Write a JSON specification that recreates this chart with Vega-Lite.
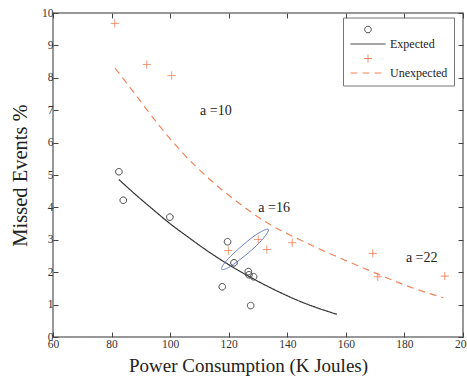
{
  "$schema": "https://vega.github.io/schema/vega-lite/v6.json",
  "width": 410,
  "height": 324,
  "autosize": {"type": "none"},
  "padding": {"left": 53, "top": 13, "right": 4, "bottom": 40},
  "config": {
    "font": "Liberation Serif",
    "view": {"stroke": "#777", "strokeWidth": 1.5},
    "axis": {
      "grid": false,
      "domain": false,
      "tickColor": "#444",
      "tickSize": -5,
      "tickWidth": 1,
      "labelOverlap": false,
      "labelBound": false,
      "labelFlush": false,
      "labelSeparation": 0,
      "labelFont": "Liberation Serif",
      "labelFontSize": 11.5,
      "labelColor": "#333",
      "titleFont": "Liberation Serif",
      "titleFontWeight": "normal",
      "titleColor": "#222"
    },
    "axisY": {"labelOverlap": false},
    "axisLeft": {"labelOverlap": false},
    "legend": {
      "title": null,
      "orient": "none",
      "legendX": 290,
      "legendY": 4.5,
      "symbolSize": 100,
      "symbolStrokeWidth": 1,
      "symbolOffset": 13,
      "strokeColor": "#777",
      "padding": 6,
      "labelFont": "Liberation Serif",
      "labelFontSize": 12,
      "labelColor": "#222",
      "labelOffset": 16,
      "rowPadding": 2.5
    }
  },
  "datasets": {
    "pts": [
      {"x": 82.5, "y": 5.10, "series": "Expected data"},
      {"x": 84.0, "y": 4.22, "series": "Expected data"},
      {"x": 99.9, "y": 3.70, "series": "Expected data"},
      {"x": 119.6, "y": 2.94, "series": "Expected data"},
      {"x": 121.8, "y": 2.29, "series": "Expected data"},
      {"x": 126.7, "y": 2.02, "series": "Expected data"},
      {"x": 126.9, "y": 1.92, "series": "Expected data"},
      {"x": 128.5, "y": 1.86, "series": "Expected data"},
      {"x": 117.8, "y": 1.55, "series": "Expected data"},
      {"x": 127.5, "y": 0.97, "series": "Expected data"},
      {"x": 81.1, "y": 9.68, "series": "Unexpected data"},
      {"x": 92.0, "y": 8.41, "series": "Unexpected data"},
      {"x": 100.5, "y": 8.07, "series": "Unexpected data"},
      {"x": 119.9, "y": 2.67, "series": "Unexpected data"},
      {"x": 130.1, "y": 3.01, "series": "Unexpected data"},
      {"x": 133.0, "y": 2.70, "series": "Unexpected data"},
      {"x": 141.7, "y": 2.91, "series": "Unexpected data"},
      {"x": 169.2, "y": 2.58, "series": "Unexpected data"},
      {"x": 170.9, "y": 1.86, "series": "Unexpected data"},
      {"x": 193.8, "y": 1.88, "series": "Unexpected data"}
    ],
    "curves": [
      {"x": 82.5, "y": 4.86, "series": "Expected"},
      {"x": 88.0, "y": 4.41, "series": "Expected"},
      {"x": 93.7, "y": 3.97, "series": "Expected"},
      {"x": 99.95, "y": 3.50, "series": "Expected"},
      {"x": 106.2, "y": 3.08, "series": "Expected"},
      {"x": 113.0, "y": 2.64, "series": "Expected"},
      {"x": 119.85, "y": 2.24, "series": "Expected"},
      {"x": 126.7, "y": 1.88, "series": "Expected"},
      {"x": 134.7, "y": 1.50, "series": "Expected"},
      {"x": 144.9, "y": 1.08, "series": "Expected"},
      {"x": 156.9, "y": 0.70, "series": "Expected"},
      {"x": 81.2, "y": 8.30, "series": "Unexpected"},
      {"x": 88.6, "y": 7.43, "series": "Unexpected"},
      {"x": 96.5, "y": 6.50, "series": "Unexpected"},
      {"x": 104.5, "y": 5.66, "series": "Unexpected"},
      {"x": 113.6, "y": 4.86, "series": "Unexpected"},
      {"x": 122.5, "y": 4.20, "series": "Unexpected"},
      {"x": 134.1, "y": 3.47, "series": "Unexpected"},
      {"x": 144.3, "y": 3.00, "series": "Unexpected"},
      {"x": 156.9, "y": 2.48, "series": "Unexpected"},
      {"x": 169.4, "y": 2.00, "series": "Unexpected"},
      {"x": 180.8, "y": 1.58, "series": "Unexpected"},
      {"x": 193.3, "y": 1.21, "series": "Unexpected"}
    ],
    "ellipse": [
      {"x": 133.5, "y": 3.32, "i": 0},
      {"x": 132.96, "y": 3.18, "i": 1},
      {"x": 130.47, "y": 2.91, "i": 2},
      {"x": 126.61, "y": 2.59, "i": 3},
      {"x": 122.51, "y": 2.30, "i": 4},
      {"x": 119.20, "y": 2.11, "i": 5},
      {"x": 117.60, "y": 2.09, "i": 6},
      {"x": 118.14, "y": 2.23, "i": 7},
      {"x": 120.63, "y": 2.49, "i": 8},
      {"x": 124.49, "y": 2.81, "i": 9},
      {"x": 128.59, "y": 3.11, "i": 10},
      {"x": 131.90, "y": 3.29, "i": 11}
    ],
    "labels": [
      {"x": 115.6, "y": 6.97, "text": "a =10"},
      {"x": 135.5, "y": 3.99, "text": "a =16"},
      {"x": 185.9, "y": 2.45, "text": "a =22"}
    ]
  },
  "layer": [
    {
      "layer": [
        {
          "data": {"name": "curves"},
          "mark": {"type": "line", "interpolate": "monotone", "strokeWidth": 1.2},
          "encoding": {
            "x": {"field": "x", "type": "quantitative", "scale": {"domain": [60, 200], "nice": false},
              "axis": {"values": [60, 80, 100, 120, 140, 160, 180, 200], "labelOverlap": false, "title": "Power Consumption (K Joules)", "titleFontSize": 19, "labelPadding": 6, "titleX": 195, "titleY": 28, "titleBaseline": "middle"}},
            "y": {"field": "y", "type": "quantitative", "scale": {"domain": [0, 10], "nice": false},
              "axis": {"values": [0, 1, 2, 3, 4, 5, 6, 7, 8, 9, 10], "tickCount": 11, "labelOverlap": false, "title": "Missed Events %", "titleFontSize": 20.5, "labelPadding": 5, "titleX": -33, "titleY": 162, "titleBaseline": "middle"}},
            "color": {"field": "series", "type": "nominal",
              "scale": {"domain": ["Expected data", "Expected", "Unexpected data", "Unexpected"], "range": ["#444", "#333", "#f4845a", "#f4845a"]},
              "legend": {"labelExpr": "datum.label == 'Expected' || datum.label == 'Unexpected' ? datum.label : ''"}},
            "strokeDash": {"field": "series", "type": "nominal",
              "scale": {"domain": ["Expected data", "Expected", "Unexpected data", "Unexpected"], "range": [[1, 0], [1, 0], [1, 0], [7, 5]]},
              "legend": {"labelExpr": "datum.label == 'Expected' || datum.label == 'Unexpected' ? datum.label : ''"}}
          }
        },
        {
          "data": {"name": "ellipse"},
          "mark": {"type": "line", "interpolate": "cardinal-closed", "color": "#6f7fd0", "strokeWidth": 1},
          "encoding": {
            "x": {"field": "x", "type": "quantitative"},
            "y": {"field": "y", "type": "quantitative"},
            "order": {"field": "i", "type": "quantitative"}
          }
        },
        {
          "data": {"name": "pts"},
          "mark": {"type": "point", "filled": false, "size": 100, "strokeWidth": 1, "opacity": 1},
          "encoding": {
            "x": {"field": "x", "type": "quantitative"},
            "y": {"field": "y", "type": "quantitative"},
            "color": {"field": "series", "type": "nominal"},
            "shape": {"field": "series", "type": "nominal",
              "scale": {"domain": ["Expected data", "Expected", "Unexpected data", "Unexpected"],
                "range": ["M0.66,0A0.66,0.66,0,1,1,-0.66,0A0.66,0.66,0,1,1,0.66,0Z", "M-3.5,0H3.5", "M-0.8,0H0.8M0,-0.8V0.8", "M-3.5,0H3.5"]},
              "legend": {"labelExpr": "datum.label == 'Expected' || datum.label == 'Unexpected' ? datum.label : ''"}},
            "strokeDash": {"field": "series", "type": "nominal"}
          }
        },
        {
          "data": {"name": "labels"},
          "mark": {"type": "text", "fontSize": 14, "color": "#222", "align": "center", "baseline": "middle"},
          "encoding": {
            "x": {"field": "x", "type": "quantitative"},
            "y": {"field": "y", "type": "quantitative"},
            "text": {"field": "text", "type": "nominal"}
          }
        }
      ]
    },
    {
      "data": {"name": "pts"},
      "mark": {"type": "point", "opacity": 0},
      "encoding": {
        "x": {"field": "x", "type": "quantitative", "axis": {"orient": "top", "labels": false, "title": null, "values": [60, 80, 100, 120, 140, 160, 180, 200]}},
        "y": {"field": "y", "type": "quantitative", "axis": {"orient": "right", "labels": false, "title": null, "values": [0, 1, 2, 3, 4, 5, 6, 7, 8, 9, 10]}}
      }
    }
  ],
  "resolve": {"axis": {"x": "independent", "y": "independent"}}
}
